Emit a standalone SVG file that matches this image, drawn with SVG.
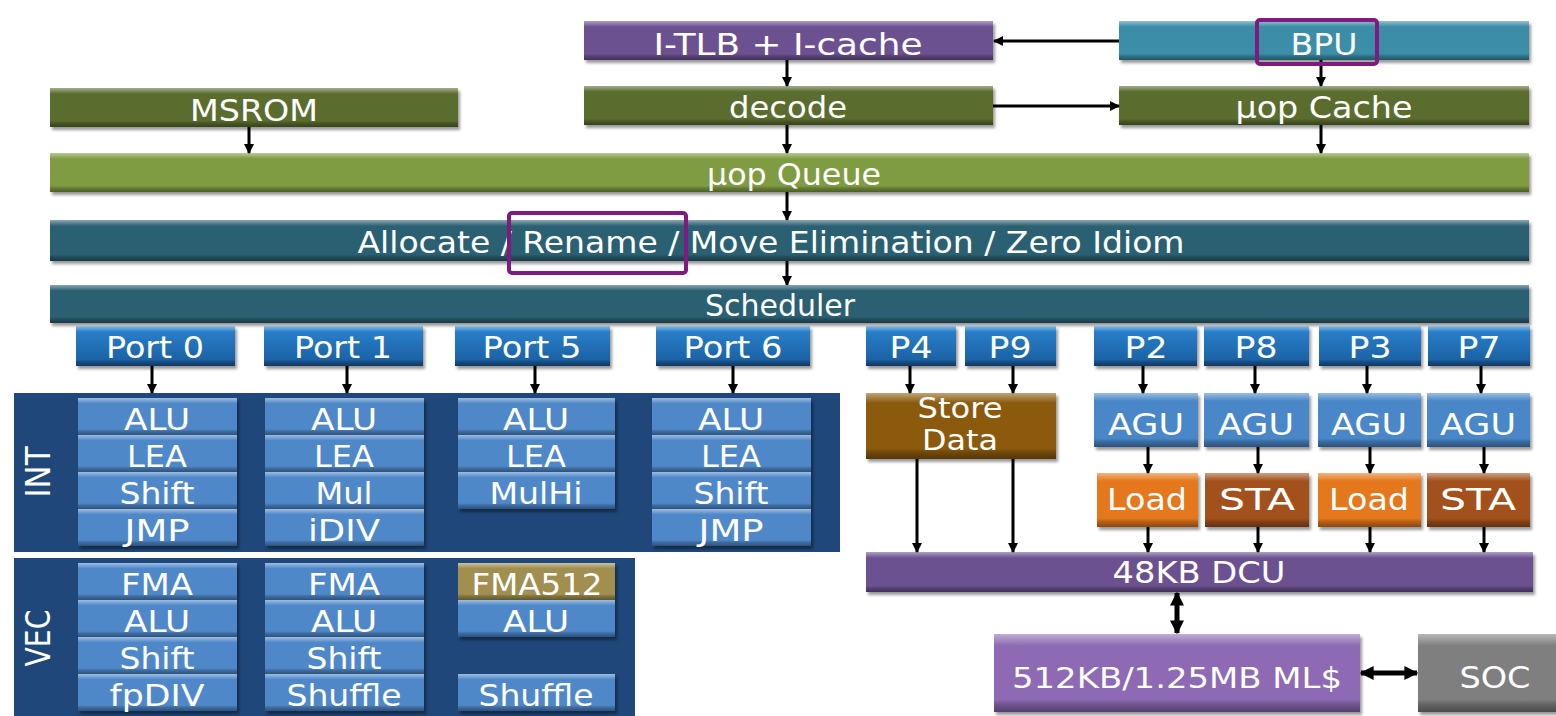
<svg xmlns="http://www.w3.org/2000/svg" width="1556" height="716" viewBox="0 0 1556 716">
  <defs>
    <style>
      .t { fill: #fff; font-family: "DejaVu Sans", Verdana, sans-serif; font-size: 30px; text-anchor: middle; }
      .s { font-size: 28px; }
      .box { filter: url(#shadow); }
      .bv { fill: url(#bevel); }
      .purple { fill: #6c5191; }
      .teal { fill: #3a8da8; }
      .olive { fill: #5a6d2d; }
      .lime { fill: #7f9c42; }
      .slate { fill: #2c6172; }
      .port { fill: url(#portGrad); }
      .panel { fill: #1f4779; }
      .unit { fill: #4f88c9; }
      .gold { fill: #a08f50; }
      .store { fill: #8b5a10; }
      .agu { fill: #4a87c8; }
      .load { fill: #e5781c; }
      .sta { fill: #a3511b; }
      .ml { fill: #8d6ab3; }
      .soc { fill: #7f7f7f; }
      .hl { fill: none; stroke: #7e1a80; stroke-width: 4; }
      .c { fill: none; stroke: #000; stroke-width: 3; marker-end: url(#ah); }
      .d { fill: none; stroke: #000; stroke-width: 5; marker-start: url(#ah2); marker-end: url(#ah2); }
    </style>
    <linearGradient id="bevel" x1="0" y1="0" x2="0" y2="1">
      <stop offset="0" stop-color="#fff" stop-opacity="0.45"/>
      <stop offset="0.1" stop-color="#fff" stop-opacity="0.15"/>
      <stop offset="0.15" stop-color="#fff" stop-opacity="0"/>
      <stop offset="0.84" stop-color="#000" stop-opacity="0"/>
      <stop offset="0.9" stop-color="#000" stop-opacity="0.2"/>
      <stop offset="1" stop-color="#000" stop-opacity="0.4"/>
    </linearGradient>
    <linearGradient id="portGrad" x1="0" y1="0" x2="0" y2="1">
      <stop offset="0" stop-color="#2a84cf"/>
      <stop offset="1" stop-color="#1a5c9e"/>
    </linearGradient>
    <filter id="shadow" x="-5%" y="-20%" width="115%" height="160%">
      <feDropShadow dx="2" dy="3" stdDeviation="1.5" flood-color="#000" flood-opacity="0.4"/>
    </filter>
    <marker id="ah" viewBox="0 0 10 10" refX="9" refY="5" markerWidth="11" markerHeight="10" markerUnits="userSpaceOnUse" orient="auto-start-reverse">
      <path d="M0,0 L10,5 L0,10 z" fill="#000"/>
    </marker>
    <marker id="ah2" viewBox="0 0 10 10" refX="9" refY="5" markerWidth="14" markerHeight="16" markerUnits="userSpaceOnUse" orient="auto-start-reverse">
      <path d="M0,0 L10,5 L0,10 z" fill="#000"/>
    </marker>
  </defs>

  <rect width="1556" height="716" fill="#fff"/>

  <!-- front end -->
  <g id="itlb"><rect class="box purple" x="584" y="21" width="409" height="39"/><rect class="bv" x="584" y="21" width="409" height="39"/><text class="t" x="788" y="55" textLength="269" lengthAdjust="spacingAndGlyphs">I-TLB + I-cache</text></g>
  <g id="bpu"><rect class="box teal" x="1119" y="21" width="410" height="39"/><rect class="bv" x="1119" y="21" width="410" height="39"/><text class="t" x="1324" y="55" textLength="67" lengthAdjust="spacingAndGlyphs">BPU</text></g>
  <g id="msrom"><rect class="box olive" x="50" y="88" width="408" height="39"/><rect class="bv" x="50" y="88" width="408" height="39"/><text class="t" x="254" y="121" textLength="128" lengthAdjust="spacingAndGlyphs">MSROM</text></g>
  <g id="decode"><rect class="box olive" x="584" y="86" width="409" height="39"/><rect class="bv" x="584" y="86" width="409" height="39"/><text class="t" x="788" y="118" textLength="118" lengthAdjust="spacingAndGlyphs">decode</text></g>
  <g id="uop-cache"><rect class="box olive" x="1119" y="86" width="410" height="39"/><rect class="bv" x="1119" y="86" width="410" height="39"/><text class="t" x="1324" y="118" textLength="177" lengthAdjust="spacingAndGlyphs">µop Cache</text></g>
  <g id="uop-queue"><rect class="box lime" x="50" y="153" width="1479" height="39"/><rect class="bv" x="50" y="153" width="1479" height="39"/><text class="t" x="794" y="185" textLength="174" lengthAdjust="spacingAndGlyphs">µop Queue</text></g>
  <g id="allocate"><rect class="box slate" x="50" y="220" width="1479" height="41"/><rect class="bv" x="50" y="220" width="1479" height="41"/><text class="t" x="771" y="253" textLength="827" lengthAdjust="spacingAndGlyphs">Allocate / Rename / Move Elimination / Zero Idiom</text></g>
  <g id="scheduler"><rect class="box slate" x="50" y="285" width="1479" height="38"/><rect class="bv" x="50" y="285" width="1479" height="38"/><text class="t" x="780" y="316" textLength="150" lengthAdjust="spacingAndGlyphs">Scheduler</text></g>

  <!-- issue ports -->
  <g id="port0"><rect class="box port" x="76" y="326" width="159" height="40"/><rect class="bv" x="76" y="326" width="159" height="40"/><text class="t" x="155" y="358" textLength="98" lengthAdjust="spacingAndGlyphs">Port 0</text></g>
  <g id="port1"><rect class="box port" x="264" y="326" width="159" height="40"/><rect class="bv" x="264" y="326" width="159" height="40"/><text class="t" x="343" y="358" textLength="98" lengthAdjust="spacingAndGlyphs">Port 1</text></g>
  <g id="port5"><rect class="box port" x="455" y="326" width="155" height="40"/><rect class="bv" x="455" y="326" width="155" height="40"/><text class="t" x="532" y="358" textLength="99" lengthAdjust="spacingAndGlyphs">Port 5</text></g>
  <g id="port6"><rect class="box port" x="656" y="326" width="154" height="40"/><rect class="bv" x="656" y="326" width="154" height="40"/><text class="t" x="733" y="358" textLength="99" lengthAdjust="spacingAndGlyphs">Port 6</text></g>
  <g id="p4"><rect class="box port" x="866" y="326" width="90" height="40"/><rect class="bv" x="866" y="326" width="90" height="40"/><text class="t" x="911" y="358" textLength="43" lengthAdjust="spacingAndGlyphs">P4</text></g>
  <g id="p9"><rect class="box port" x="965" y="326" width="91" height="40"/><rect class="bv" x="965" y="326" width="91" height="40"/><text class="t" x="1010" y="358" textLength="43" lengthAdjust="spacingAndGlyphs">P9</text></g>
  <g id="p2"><rect class="box port" x="1094" y="326" width="103" height="40"/><rect class="bv" x="1094" y="326" width="103" height="40"/><text class="t" x="1146" y="358" textLength="43" lengthAdjust="spacingAndGlyphs">P2</text></g>
  <g id="p8"><rect class="box port" x="1204" y="326" width="105" height="40"/><rect class="bv" x="1204" y="326" width="105" height="40"/><text class="t" x="1256" y="358" textLength="43" lengthAdjust="spacingAndGlyphs">P8</text></g>
  <g id="p3"><rect class="box port" x="1319" y="326" width="102" height="40"/><rect class="bv" x="1319" y="326" width="102" height="40"/><text class="t" x="1370" y="358" textLength="43" lengthAdjust="spacingAndGlyphs">P3</text></g>
  <g id="p7"><rect class="box port" x="1428" y="326" width="102" height="40"/><rect class="bv" x="1428" y="326" width="102" height="40"/><text class="t" x="1479" y="358" textLength="43" lengthAdjust="spacingAndGlyphs">P7</text></g>

  <!-- integer execution units -->
  <g id="int">
    <rect class="panel" x="14" y="393" width="826" height="159"/>
    <text class="t" transform="translate(50 472) rotate(-90)" style="font-size:33px" textLength="51" lengthAdjust="spacingAndGlyphs">INT</text>
    <g id="int-p0">
      <rect class="box unit" x="78" y="398" width="159" height="37"/><rect class="bv" x="78" y="398" width="159" height="37"/><text class="t" x="157" y="430" textLength="66" lengthAdjust="spacingAndGlyphs">ALU</text>
      <rect class="box unit" x="78" y="435" width="159" height="37"/><rect class="bv" x="78" y="435" width="159" height="37"/><text class="t" x="157" y="467" textLength="60" lengthAdjust="spacingAndGlyphs">LEA</text>
      <rect class="box unit" x="78" y="472" width="159" height="37"/><rect class="bv" x="78" y="472" width="159" height="37"/><text class="t" x="157" y="504" textLength="75" lengthAdjust="spacingAndGlyphs">Shift</text>
      <rect class="box unit" x="78" y="509" width="159" height="37"/><rect class="bv" x="78" y="509" width="159" height="37"/><text class="t" x="157" y="541" textLength="65" lengthAdjust="spacingAndGlyphs">JMP</text>
    </g>
    <g id="int-p1">
      <rect class="box unit" x="265" y="398" width="159" height="37"/><rect class="bv" x="265" y="398" width="159" height="37"/><text class="t" x="344" y="430" textLength="66" lengthAdjust="spacingAndGlyphs">ALU</text>
      <rect class="box unit" x="265" y="435" width="159" height="37"/><rect class="bv" x="265" y="435" width="159" height="37"/><text class="t" x="344" y="467" textLength="60" lengthAdjust="spacingAndGlyphs">LEA</text>
      <rect class="box unit" x="265" y="472" width="159" height="37"/><rect class="bv" x="265" y="472" width="159" height="37"/><text class="t" x="344" y="504" textLength="57" lengthAdjust="spacingAndGlyphs">Mul</text>
      <rect class="box unit" x="265" y="509" width="159" height="37"/><rect class="bv" x="265" y="509" width="159" height="37"/><text class="t" x="344" y="541" textLength="72" lengthAdjust="spacingAndGlyphs">iDIV</text>
    </g>
    <g id="int-p5">
      <rect class="box unit" x="458" y="398" width="157" height="37"/><rect class="bv" x="458" y="398" width="157" height="37"/><text class="t" x="536" y="430" textLength="66" lengthAdjust="spacingAndGlyphs">ALU</text>
      <rect class="box unit" x="458" y="435" width="157" height="37"/><rect class="bv" x="458" y="435" width="157" height="37"/><text class="t" x="536" y="467" textLength="60" lengthAdjust="spacingAndGlyphs">LEA</text>
      <rect class="box unit" x="458" y="472" width="157" height="37"/><rect class="bv" x="458" y="472" width="157" height="37"/><text class="t" x="536" y="504" textLength="93" lengthAdjust="spacingAndGlyphs">MulHi</text>
    </g>
    <g id="int-p6">
      <rect class="box unit" x="652" y="398" width="159" height="37"/><rect class="bv" x="652" y="398" width="159" height="37"/><text class="t" x="731" y="430" textLength="66" lengthAdjust="spacingAndGlyphs">ALU</text>
      <rect class="box unit" x="652" y="435" width="159" height="37"/><rect class="bv" x="652" y="435" width="159" height="37"/><text class="t" x="731" y="467" textLength="60" lengthAdjust="spacingAndGlyphs">LEA</text>
      <rect class="box unit" x="652" y="472" width="159" height="37"/><rect class="bv" x="652" y="472" width="159" height="37"/><text class="t" x="731" y="504" textLength="75" lengthAdjust="spacingAndGlyphs">Shift</text>
      <rect class="box unit" x="652" y="509" width="159" height="37"/><rect class="bv" x="652" y="509" width="159" height="37"/><text class="t" x="731" y="541" textLength="65" lengthAdjust="spacingAndGlyphs">JMP</text>
    </g>
  </g>

  <!-- vector execution units -->
  <g id="vec">
    <rect class="panel" x="14" y="558" width="621" height="158"/>
    <text class="t" transform="translate(50 638) rotate(-90)" style="font-size:33px" textLength="57" lengthAdjust="spacingAndGlyphs">VEC</text>
    <g id="vec-p0">
      <rect class="box unit" x="78" y="563" width="159" height="37"/><rect class="bv" x="78" y="563" width="159" height="37"/><text class="t" x="157" y="595" textLength="72" lengthAdjust="spacingAndGlyphs">FMA</text>
      <rect class="box unit" x="78" y="600" width="159" height="37"/><rect class="bv" x="78" y="600" width="159" height="37"/><text class="t" x="157" y="632" textLength="66" lengthAdjust="spacingAndGlyphs">ALU</text>
      <rect class="box unit" x="78" y="637" width="159" height="37"/><rect class="bv" x="78" y="637" width="159" height="37"/><text class="t" x="157" y="669" textLength="75" lengthAdjust="spacingAndGlyphs">Shift</text>
      <rect class="box unit" x="78" y="674" width="159" height="37"/><rect class="bv" x="78" y="674" width="159" height="37"/><text class="t" x="157" y="706" textLength="95" lengthAdjust="spacingAndGlyphs">fpDIV</text>
    </g>
    <g id="vec-p1">
      <rect class="box unit" x="265" y="563" width="159" height="37"/><rect class="bv" x="265" y="563" width="159" height="37"/><text class="t" x="344" y="595" textLength="72" lengthAdjust="spacingAndGlyphs">FMA</text>
      <rect class="box unit" x="265" y="600" width="159" height="37"/><rect class="bv" x="265" y="600" width="159" height="37"/><text class="t" x="344" y="632" textLength="66" lengthAdjust="spacingAndGlyphs">ALU</text>
      <rect class="box unit" x="265" y="637" width="159" height="37"/><rect class="bv" x="265" y="637" width="159" height="37"/><text class="t" x="344" y="669" textLength="75" lengthAdjust="spacingAndGlyphs">Shift</text>
      <rect class="box unit" x="265" y="674" width="159" height="37"/><rect class="bv" x="265" y="674" width="159" height="37"/><text class="t" x="344" y="706" textLength="115" lengthAdjust="spacingAndGlyphs">Shuffle</text>
    </g>
    <g id="vec-p5">
      <rect class="box gold" x="458" y="563" width="157" height="37"/><rect class="bv" x="458" y="563" width="157" height="37"/><text class="t" x="537" y="595" textLength="131" lengthAdjust="spacingAndGlyphs">FMA512</text>
      <rect class="box unit" x="458" y="600" width="157" height="37"/><rect class="bv" x="458" y="600" width="157" height="37"/><text class="t" x="536" y="632" textLength="66" lengthAdjust="spacingAndGlyphs">ALU</text>
      <rect class="box unit" x="458" y="674" width="157" height="37"/><rect class="bv" x="458" y="674" width="157" height="37"/><text class="t" x="536" y="706" textLength="115" lengthAdjust="spacingAndGlyphs">Shuffle</text>
    </g>
  </g>

  <!-- memory pipeline -->
  <g id="store-data"><rect class="box store" x="866" y="393" width="190" height="66"/><rect class="bv" x="866" y="393" width="190" height="66"/><text class="t s" x="960" y="418" textLength="85" lengthAdjust="spacingAndGlyphs">Store</text><text class="t s" x="960" y="450" textLength="76" lengthAdjust="spacingAndGlyphs">Data</text></g>
  <g id="agu2"><rect class="box agu" x="1094" y="393" width="104" height="54"/><rect class="bv" x="1094" y="393" width="104" height="54"/><text class="t" x="1146" y="435" textLength="76" lengthAdjust="spacingAndGlyphs">AGU</text></g>
  <g id="agu8"><rect class="box agu" x="1204" y="393" width="105" height="54"/><rect class="bv" x="1204" y="393" width="105" height="54"/><text class="t" x="1256" y="435" textLength="76" lengthAdjust="spacingAndGlyphs">AGU</text></g>
  <g id="agu3"><rect class="box agu" x="1318" y="393" width="103" height="54"/><rect class="bv" x="1318" y="393" width="103" height="54"/><text class="t" x="1369" y="435" textLength="76" lengthAdjust="spacingAndGlyphs">AGU</text></g>
  <g id="agu7"><rect class="box agu" x="1427" y="393" width="103" height="54"/><rect class="bv" x="1427" y="393" width="103" height="54"/><text class="t" x="1478" y="435" textLength="76" lengthAdjust="spacingAndGlyphs">AGU</text></g>
  <g id="load2"><rect class="box load" x="1097" y="473" width="101" height="54"/><rect class="bv" x="1097" y="473" width="101" height="54"/><text class="t" x="1147" y="510" textLength="80" lengthAdjust="spacingAndGlyphs">Load</text></g>
  <g id="sta8"><rect class="box sta" x="1205" y="473" width="104" height="54"/><rect class="bv" x="1205" y="473" width="104" height="54"/><text class="t" x="1257" y="510" textLength="76" lengthAdjust="spacingAndGlyphs">STA</text></g>
  <g id="load3"><rect class="box load" x="1318" y="473" width="103" height="54"/><rect class="bv" x="1318" y="473" width="103" height="54"/><text class="t" x="1369" y="510" textLength="80" lengthAdjust="spacingAndGlyphs">Load</text></g>
  <g id="sta7"><rect class="box sta" x="1427" y="473" width="103" height="54"/><rect class="bv" x="1427" y="473" width="103" height="54"/><text class="t" x="1478" y="510" textLength="76" lengthAdjust="spacingAndGlyphs">STA</text></g>
  <g id="dcu"><rect class="box purple" x="866" y="552" width="667" height="40"/><rect class="bv" x="866" y="552" width="667" height="40"/><text class="t" x="1199" y="583" textLength="173" lengthAdjust="spacingAndGlyphs">48KB DCU</text></g>
  <g id="mlc"><rect class="box ml" x="994" y="634" width="366" height="78"/><rect class="bv" x="994" y="634" width="366" height="78"/><text class="t s" x="1177" y="688" textLength="330" lengthAdjust="spacingAndGlyphs">512KB/1.25MB ML$</text></g>
  <g id="soc"><rect class="box soc" x="1418" y="634" width="142" height="78"/><rect class="bv" x="1418" y="634" width="142" height="78"/><text class="t" x="1495" y="688" textLength="71" lengthAdjust="spacingAndGlyphs">SOC</text></g>

  <!-- connectors -->
  <g id="connectors">
    <path class="c" d="M1119,41 H994"/>
    <path class="c" d="M787,60 V86"/>
    <path class="c" d="M993,106 H1119"/>
    <path class="c" d="M1321,60 V86"/>
    <path class="c" d="M249,127 V153"/>
    <path class="c" d="M787,125 V153"/>
    <path class="c" d="M1321,125 V153"/>
    <path class="c" d="M787,192 V220"/>
    <path class="c" d="M787,261 V285"/>
    <path class="c" d="M152,366 V393"/>
    <path class="c" d="M347,366 V393"/>
    <path class="c" d="M535,366 V393"/>
    <path class="c" d="M733,366 V393"/>
    <path class="c" d="M910,366 V393"/>
    <path class="c" d="M1013,366 V393"/>
    <path class="c" d="M1143,366 V393"/>
    <path class="c" d="M1255,366 V393"/>
    <path class="c" d="M1367,366 V393"/>
    <path class="c" d="M1481,366 V393"/>
    <path class="c" d="M1148,447 V473"/>
    <path class="c" d="M1258,447 V473"/>
    <path class="c" d="M1370,447 V473"/>
    <path class="c" d="M1484,447 V473"/>
    <path class="c" d="M917,459 V552"/>
    <path class="c" d="M1013,459 V552"/>
    <path class="c" d="M1148,527 V552"/>
    <path class="c" d="M1258,527 V552"/>
    <path class="c" d="M1370,527 V552"/>
    <path class="c" d="M1484,527 V552"/>
    <path class="d" d="M1177,593 V633"/>
    <path class="d" d="M1361,673 H1417"/>
  </g>

  <!-- emphasis outlines -->
  <rect class="hl" x="1257" y="20" width="120" height="44" rx="3"/>
  <rect class="hl" x="509" y="213" width="177" height="60" rx="3"/>
</svg>
